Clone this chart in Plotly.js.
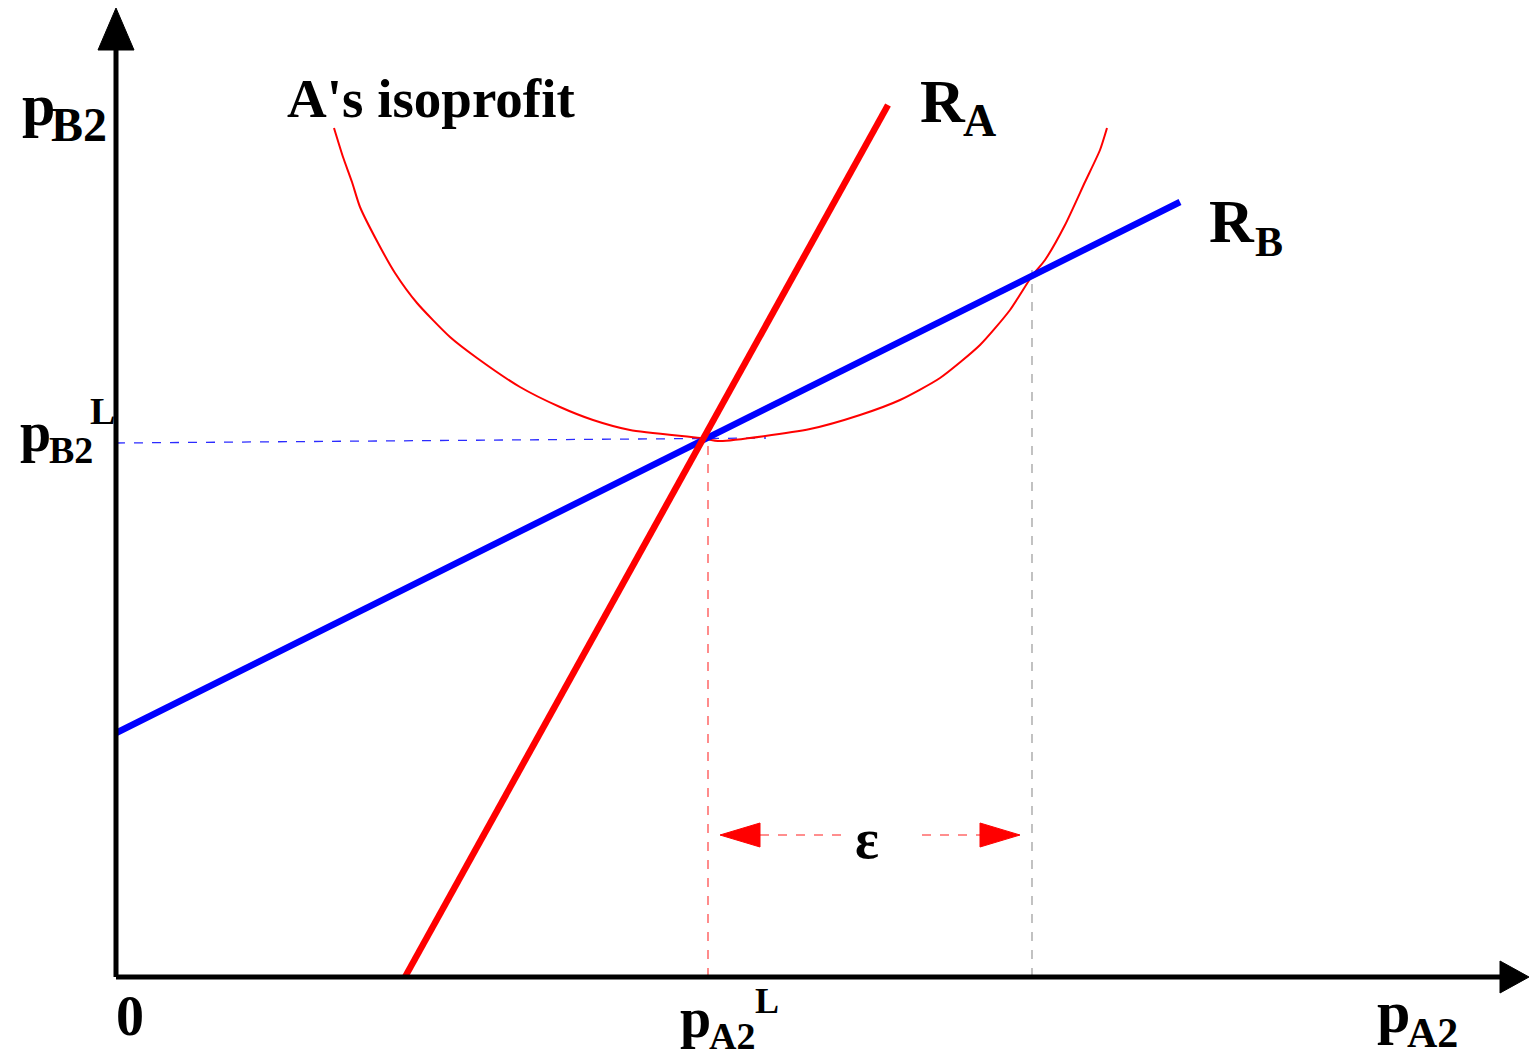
<!DOCTYPE html>
<html>
<head>
<meta charset="utf-8">
<script src="https://cdn.plot.ly/plotly-3.0.1.min.js"></script>
<style>html,body{margin:0;padding:0;background:#fff;}#chart{width:1529px;height:1054px;}</style>
</head>
<body>
<div id="chart"></div>
<script>
// Reaction functions (data units)
const RA_x = [289, 772];
const RA_y = [0, 872];
const RB_x = [0, 1064];
const RB_y = [244, 775];
// A's isoprofit curve
const iso_x = [218,227,236,244,262,279,301,334,361,404,444,477,514,584,604,694,744,784,824,864,894,916,929,949,969,984,991];
const iso_y = [849,820,795,770,734,704,674,640,619,590,570,557,547,539,536,548,562,577,599,632,667,701,717,752,795,827,849];
// Guide lines
const pB2L_x = [0, 650];
const pB2L_y = [534, 539];
const pA2L_x = [592, 592];
const pA2L_y = [0, 537];
const eps_right_x = [916, 916];
const eps_right_y = [0, 707];
// epsilon arrow
const epsSeg1_x = [644, 732];
const epsSeg2_x = [806, 864];
const eps_y = 142;
const epsLeftHead_x = [604, 644, 644, 604];
const epsLeftHead_y = [142, 154, 130, 142];
const epsRightHead_x = [904, 864, 864, 904];
const epsRightHead_y = [142, 154, 130, 142];
// Axes
const xAxis_x = [0, 1390];
const xAxis_y = [0, 0];
const yAxis_x = [0, 0];
const yAxis_y = [0, 930];
const xHead_x = [1413, 1384, 1384, 1413];
const xHead_y = [0, 16, -16, 0];
const yHead_x = [0, -18, 18, 0];
const yHead_y = [969, 927, 927, 969];

// Labels: text pieces (main symbol, subscript, superscript)
const labelText = ['p', 'B2', "A's isoprofit", 'R', 'A', 'R', 'B', 'p', 'B2', 'L', '0', 'p', 'A2', 'L', 'p', 'A2', 'ε'];
const labelX    = [-96, -67, 169, 802, 845, 1091, 1137, -98, -69, -14, 14, 562, 591, 651, 1259, 1289, 751];
const labelY    = [872, 853, 879, 876, 857, 756, 735, 545, 527, 566, -39, -41, -59, -24, -35, -56, 138];
const labelSize = [60, 48, 55, 62, 46, 62, 42, 56, 38, 38, 56, 56, 38, 36, 60, 42, 56];
const labelAnchor = ['left','left','left','left','left','left','left','left','left','center','center','left','left','center','left','left','center'];

const traces = [
  {x: pB2L_x, y: pB2L_y, mode:'lines', line:{color:'#2b2bff', width:1.3, dash:'dash'}},
  {x: pA2L_x, y: pA2L_y, mode:'lines', line:{color:'#ff4040', width:1.2, dash:'dash'}},
  {x: eps_right_x, y: eps_right_y, mode:'lines', line:{color:'#999999', width:1.2, dash:'dash'}},
  {x: epsSeg1_x, y: [eps_y, eps_y], mode:'lines', line:{color:'#ff6a6a', width:1.5, dash:'dash'}},
  {x: epsSeg2_x, y: [eps_y, eps_y], mode:'lines', line:{color:'#ff6a6a', width:1.5, dash:'dash'}},
  {x: epsLeftHead_x, y: epsLeftHead_y, mode:'lines', fill:'toself', fillcolor:'#ff0000', line:{color:'#ff0000', width:1}},
  {x: epsRightHead_x, y: epsRightHead_y, mode:'lines', fill:'toself', fillcolor:'#ff0000', line:{color:'#ff0000', width:1}},
  {x: iso_x, y: iso_y, mode:'lines', line:{color:'#ff0000', width:2, shape:'spline', smoothing:0.6}},
  {x: RB_x, y: RB_y, mode:'lines', line:{color:'#0000ff', width:6.5}},
  {x: RA_x, y: RA_y, mode:'lines', line:{color:'#ff0000', width:6.5}},
  {x: xAxis_x, y: xAxis_y, mode:'lines', line:{color:'#000', width:5}},
  {x: yAxis_x, y: yAxis_y, mode:'lines', line:{color:'#000', width:5}},
  {x: xHead_x, y: xHead_y, mode:'lines', fill:'toself', fillcolor:'#000', line:{color:'#000', width:1}},
  {x: yHead_x, y: yHead_y, mode:'lines', fill:'toself', fillcolor:'#000', line:{color:'#000', width:1}}
];
traces.forEach(t => { t.hoverinfo = 'skip'; t.showlegend = false; });

const annotations = labelText.map((t, i) => ({
  text: t, x: labelX[i], y: labelY[i], xref:'x', yref:'y', showarrow:false,
  xanchor: labelAnchor[i], yanchor:'middle',
  font: {family:'"Liberation Serif", "Times New Roman", serif', size: labelSize[i], color:'#000', weight:'bold'}
}));

const layout = {
  width:1529, height:1054,
  margin:{l:0, r:0, t:0, b:0, pad:0},
  paper_bgcolor:'#fff', plot_bgcolor:'#fff',
  showlegend:false,
  xaxis:{range:[-116,1413], visible:false, showgrid:false, zeroline:false, fixedrange:true},
  yaxis:{range:[-77,977], visible:false, showgrid:false, zeroline:false, fixedrange:true},
  annotations:annotations
};
Plotly.newPlot('chart', traces, layout, {staticPlot:true, displayModeBar:false});
</script>
</body>
</html>
